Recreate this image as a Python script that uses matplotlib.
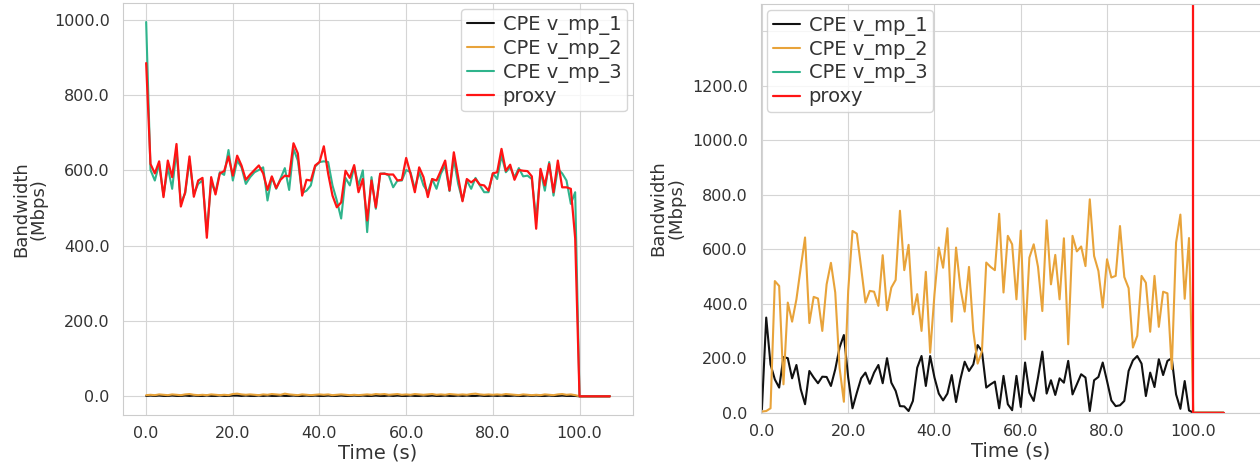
import numpy as np
import matplotlib
matplotlib.use('Agg')
import matplotlib.pyplot as plt
import seaborn as sns

# time axis (s), one sample per second, idle after 100 s
time_s = list(range(0, 108))

# ---- left run: traffic goes over v_mp_3 ----
left_mp1 = [1, 2, 1, 2, 1, 1, 2, 1, 1, 2, 1, 2, 1, 1, 2, 1, 1, 2, 1, 1,
            2, 2, 1, 2, 1, 1, 2, 1, 2, 1, 1, 2, 1, 1, 2, 1, 1, 2, 1, 2,
            1, 1, 2, 1, 1, 2, 1, 1, 2, 1, 2, 1, 1, 2, 1, 1, 2, 1, 2, 1,
            1, 2, 1, 1, 2, 1, 2, 1, 1, 2, 1, 1, 2, 1, 2, 1, 1, 2, 1, 1,
            2, 1, 2, 1, 1, 2, 1, 1, 2, 1, 2, 1, 1, 2, 1, 1, 2, 1, 1, 1,
            0, 0, 0, 0, 0, 0, 0, 0]
left_mp2 = [3, 4, 3, 5, 4, 3, 5, 4, 3, 5, 6, 4, 3, 4, 3, 5, 4, 3, 4, 3,
            6, 7, 5, 4, 5, 4, 3, 5, 4, 6, 5, 4, 7, 5, 4, 3, 5, 4, 3, 4,
            5, 4, 5, 3, 4, 5, 4, 3, 4, 3, 4, 5, 4, 6, 5, 6, 4, 5, 6, 4,
            5, 4, 6, 5, 4, 5, 6, 4, 5, 4, 6, 5, 4, 5, 4, 6, 7, 5, 4, 5,
            4, 5, 4, 6, 5, 4, 3, 5, 4, 3, 4, 3, 5, 4, 3, 5, 6, 4, 5, 3,
            0, 0, 0, 0, 0, 0, 0, 0]
left_mp3 = [994, 601, 573, 617, 533, 608, 551, 652, 513, 539,
            626, 537, 564, 573, 436, 568, 542, 595, 588, 654,
            573, 626, 608, 564, 582, 595, 601, 608, 520, 582,
            551, 578, 606, 548, 657, 626, 540, 546, 560, 610,
            622, 624, 622, 560, 520, 472, 580, 560, 610, 560,
            600, 436, 582, 498, 591, 592, 586, 555, 573, 573,
            601, 595, 551, 595, 560, 542, 577, 551, 591, 613,
            545, 630, 564, 520, 573, 551, 580, 560, 542, 542,
            592, 577, 639, 595, 608, 582, 606, 584, 586, 577,
            470, 599, 546, 622, 533, 604, 592, 573, 511, 542,
            0, 0, 0, 0, 0, 0, 0, 0]
left_proxy = [885, 617, 592, 624, 529, 626, 582, 670, 504, 542,
              637, 530, 573, 580, 421, 582, 536, 592, 598, 637,
              586, 639, 613, 575, 589, 601, 613, 592, 548, 584,
              553, 575, 586, 584, 672, 645, 533, 575, 573, 613,
              622, 664, 591, 533, 502, 515, 599, 580, 614, 542,
              577, 467, 573, 502, 591, 591, 589, 589, 573, 575,
              633, 591, 542, 608, 582, 529, 577, 573, 599, 626,
              547, 648, 582, 518, 577, 568, 577, 562, 560, 546,
              592, 595, 657, 599, 615, 575, 601, 599, 598, 584,
              445, 604, 560, 617, 542, 626, 555, 555, 551, 420,
              0, 0, 0, 0, 0, 0, 0, 0]

# ---- right run: traffic spread over v_mp_1 / v_mp_2 ----
right_mp1 = [12, 349, 177, 122, 92, 204, 200, 126, 175, 86,
             31, 153, 129, 108, 132, 131, 98, 159, 239, 285,
             129, 16, 73, 126, 147, 106, 147, 175, 108, 200,
             110, 80, 24, 23, 6, 43, 165, 208, 98, 208,
             129, 70, 45, 70, 138, 39, 122, 187, 153, 177,
             248, 226, 92, 104, 114, 16, 135, 31, 9, 135,
             21, 184, 73, 43, 129, 224, 70, 119, 65, 126,
             110, 190, 67, 104, 141, 129, 6, 119, 131, 184,
             116, 45, 24, 27, 43, 153, 192, 208, 180, 61,
             147, 94, 196, 138, 190, 200, 67, 14, 116, 8,
             0, 0, 0, 0, 0, 0, 0, 0]
right_mp2 = [4, 6, 16, 483, 465, 104, 404, 334, 416, 532,
             643, 329, 425, 419, 300, 471, 550, 441, 165, 40,
             447, 667, 657, 532, 404, 447, 444, 392, 578, 376,
             459, 487, 741, 523, 616, 361, 435, 300, 517, 220,
             435, 606, 532, 677, 334, 606, 459, 371, 535, 300,
             180, 225, 551, 535, 523, 730, 441, 649, 618, 416,
             668, 269, 569, 618, 535, 373, 706, 471, 579, 416,
             640, 251, 649, 592, 610, 538, 783, 575, 520, 386,
             563, 496, 502, 685, 498, 457, 239, 282, 502, 477,
             297, 502, 315, 444, 438, 160, 624, 727, 418, 641,
             0, 0, 0, 0, 0, 0, 0, 0]
# proxy reading is off the scale until it stops at 100 s
right_proxy_t = [0.0, 100.0, 100.0, 107.0]
right_proxy = [9000, 9000, 0, 0]

labels = ['CPE v_mp_1', 'CPE v_mp_2', 'CPE v_mp_3', 'proxy']
colors = ['#111111', '#e8a33a', '#2fb48c', '#ff1414']

sns.set_style('whitegrid')
plt.rcParams['font.family'] = ['DejaVu Sans']
plt.rcParams['axes.edgecolor'] = '#cccccc'
plt.rcParams['grid.color'] = '#d5d5d5'
text_col = '#333333'

fig = plt.figure(figsize=(12.6, 4.7), dpi=100)
ax1 = fig.add_axes([0.0976, 0.117, 0.4048, 0.876])
ax2 = fig.add_axes([0.604, 0.122, 0.3965, 0.8695])

leg_kw = dict(fontsize=14, borderaxespad=0.3, handlelength=1.4,
              handletextpad=0.45, labelspacing=0.2, borderpad=0.3)

# left panel
ax1.plot(time_s, left_mp1, color=colors[0], lw=1.5, label=labels[0])
ax1.plot(time_s, left_mp2, color=colors[1], lw=1.5, label=labels[1])
ax1.plot(time_s, left_mp3, color=colors[2], lw=1.5, label=labels[2])
ax1.plot(time_s, left_proxy, color=colors[3], lw=1.6, label=labels[3])
ax1.set_xticks([0, 20, 40, 60, 80, 100])
ax1.set_yticks([0, 200, 400, 600, 800, 1000])
ax1.xaxis.set_major_formatter(plt.FormatStrFormatter('%.1f'))
ax1.yaxis.set_major_formatter(plt.FormatStrFormatter('%.1f'))
ax1.legend(loc='upper right', **leg_kw)
ax1.set_ylabel('Bandwidth\n(Mbps)', fontsize=13, color=text_col, linespacing=1.0)
ax1.yaxis.set_label_coords(-0.147, 0.5)

# right panel
ax2.plot(time_s, right_mp1, color=colors[0], lw=1.5, label=labels[0])
ax2.plot(time_s, right_mp2, color=colors[1], lw=1.5, label=labels[1])
ax2.plot([], [], color=colors[2], lw=1.5, label=labels[2])
ax2.plot(right_proxy_t, right_proxy, color=colors[3], lw=1.6, label=labels[3])
ax2.set_xlim(-0.2, 115.6)
ax2.set_ylim(0, 1500)
ax2.set_xticks([0, 20, 40, 60, 80, 100])
ax2.xaxis.set_major_formatter(plt.FormatStrFormatter('%.1f'))
ax2.set_yticks([0, 200, 400, 600, 800, 1000, 1200, 1400])
ax2.set_yticklabels(['0.0', '200.0', '400.0', '600.0', '800.0', '1000.0', '1200.0', ''])
ax2.spines['right'].set_visible(False)
ax2.legend(loc='upper left', **leg_kw)
ax2.set_ylabel('Bandwidth\n(Mbps)', fontsize=13, color=text_col, linespacing=1.0)
ax2.yaxis.set_label_coords(-0.152, 0.5)

for ax in (ax1, ax2):
    ax.set_xlabel('Time (s)', fontsize=14, color=text_col, labelpad=2)
    ax.tick_params(labelsize=11.5, colors=text_col, length=0)
    ax.tick_params(axis='y', pad=9.5)
    ax.tick_params(axis='x', pad=8)
    for leg_text in ax.get_legend().get_texts():
        leg_text.set_color(text_col)

fig.savefig('out.png', dpi=100)
